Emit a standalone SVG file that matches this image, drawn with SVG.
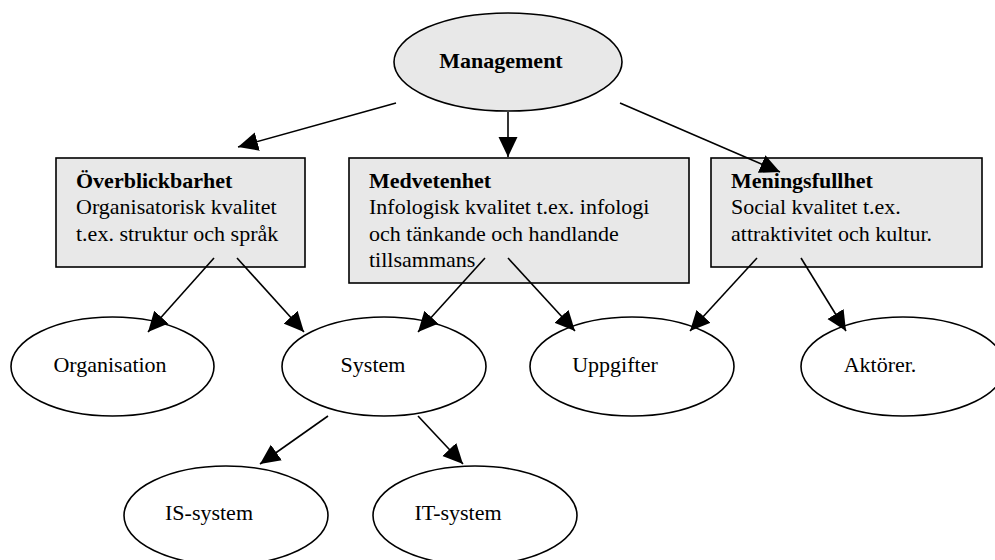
<svg xmlns="http://www.w3.org/2000/svg" width="995" height="560" viewBox="0 0 995 560">
  <defs>
    <marker id="arrow" markerUnits="userSpaceOnUse" markerWidth="21" markerHeight="20" refX="20" refY="10" orient="auto">
      <path d="M0,0.5 L20,10 L0,19.5 z" fill="#000"/>
    </marker>
    <style>
      .txt { font-family: "Liberation Serif", "Times New Roman", serif; font-size: 22px; fill: #000; }
      .b { font-weight: bold; }
      .box { fill: #e8e8e8; stroke: #000; stroke-width: 1.6; }
      .ov { fill: #fff; stroke: #000; stroke-width: 1.6; }
      .ovg { fill: #e8e8e8; stroke: #000; stroke-width: 1.6; }
      .edge { stroke: #000; stroke-width: 1.6; fill: none; marker-end: url(#arrow); }
    </style>
  </defs>
  <rect width="995" height="560" fill="#fff"/>

  <g id="management">
    <ellipse class="ovg" cx="508" cy="62" rx="114" ry="49"/>
    <text class="txt b" x="501" y="68" text-anchor="middle">Management</text>
  </g>

  <g id="overblickbarhet">
    <rect class="box" x="56" y="158" width="249" height="109"/>
    <text class="txt b" x="76" y="188">Överblickbarhet</text>
    <text class="txt" x="76" y="214">Organisatorisk kvalitet</text>
    <text class="txt" x="76" y="241">t.ex. struktur och språk</text>
  </g>

  <g id="medvetenhet">
    <rect class="box" x="349" y="158" width="340" height="125"/>
    <text class="txt b" x="369" y="188">Medvetenhet</text>
    <text class="txt" x="369" y="214">Infologisk kvalitet t.ex. infologi</text>
    <text class="txt" x="369" y="241">och tänkande och handlande</text>
    <text class="txt" x="369" y="267">tillsammans</text>
  </g>

  <g id="meningsfullhet">
    <rect class="box" x="711" y="158" width="271" height="109"/>
    <text class="txt b" x="731" y="188">Meningsfullhet</text>
    <text class="txt" x="731" y="214">Social kvalitet t.ex.</text>
    <text class="txt" x="731" y="241">attraktivitet och kultur.</text>
  </g>

  <g id="organisation">
    <ellipse class="ov" cx="112.5" cy="366.5" rx="101.5" ry="49.5"/>
    <text class="txt" x="110" y="372" text-anchor="middle">Organisation</text>
  </g>

  <g id="system">
    <ellipse class="ov" cx="384" cy="366.5" rx="102" ry="49.5"/>
    <text class="txt" x="373" y="372" text-anchor="middle">System</text>
  </g>

  <g id="uppgifter">
    <ellipse class="ov" cx="632" cy="366.5" rx="102" ry="49.5"/>
    <text class="txt" x="615" y="372" text-anchor="middle">Uppgifter</text>
  </g>

  <g id="aktorer">
    <ellipse class="ov" cx="903" cy="366.5" rx="102" ry="49.5"/>
    <text class="txt" x="880" y="372" text-anchor="middle">Aktörer.</text>
  </g>

  <g id="is-system">
    <ellipse class="ov" cx="226" cy="515.5" rx="102" ry="49.5"/>
    <text class="txt" x="209" y="520" text-anchor="middle">IS-system</text>
  </g>

  <g id="it-system">
    <ellipse class="ov" cx="475" cy="515.5" rx="102" ry="49.5"/>
    <text class="txt" x="458" y="520" text-anchor="middle">IT-system</text>
  </g>

  <g id="connectors">
    <line class="edge" x1="396" y1="103" x2="238" y2="147"/>
    <line class="edge" x1="508" y1="112" x2="508" y2="157"/>
    <line class="edge" x1="620" y1="103" x2="780" y2="172"/>
    <line class="edge" x1="214" y1="258" x2="148" y2="332"/>
    <line class="edge" x1="237" y1="258" x2="304" y2="332"/>
    <line class="edge" x1="485" y1="258" x2="418" y2="332"/>
    <line class="edge" x1="508" y1="258" x2="575" y2="331"/>
    <line class="edge" x1="757" y1="258" x2="690" y2="331"/>
    <line class="edge" x1="801" y1="258" x2="846" y2="331"/>
    <line class="edge" x1="328" y1="416" x2="260" y2="464"/>
    <line class="edge" x1="418" y1="416" x2="463" y2="464"/>
  </g>
</svg>
